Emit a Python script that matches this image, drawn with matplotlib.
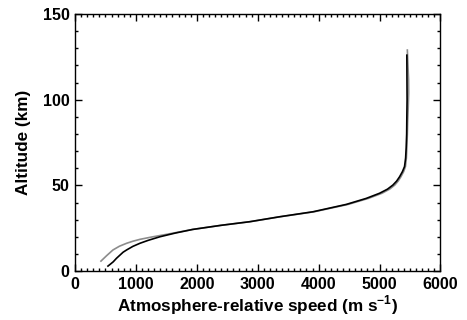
import matplotlib
matplotlib.use('Agg')
import matplotlib.pyplot as plt
from matplotlib.ticker import MultipleLocator

# speed (m/s) vs altitude (km)
black_speed = [541, 580, 628, 680, 738, 790, 847, 950, 1066, 1200, 1393, 1650, 1934, 2400, 2869,
               3361, 3907, 4454, 4781, 5000, 5130, 5219, 5280, 5328, 5375, 5410, 5428, 5437, 5445,
               5448, 5452, 5450, 5448]
black_alt = [2.9, 4.0, 5.4, 7.4, 9.3, 11.0, 12.3, 14.4, 16.2, 17.9, 20.0, 22.2, 24.3, 26.7, 28.8,
             31.7, 34.6, 38.9, 42.4, 45.4, 47.8, 50.2, 52.5, 55.0, 58.0, 61.0, 66.0, 72.0, 80.0,
             90.0, 100.0, 112.0, 126.0]

gray_speed = [426, 520, 623, 730, 847, 950, 1066, 1250, 1500, 1934, 2400, 2875, 3371, 3927, 4484,
              4816, 5040, 5165, 5250, 5305, 5350, 5395, 5425, 5440, 5448, 5456, 5462, 5470, 5478,
              5476, 5466, 5456]
gray_alt = [5.8, 9.0, 12.3, 14.5, 16.2, 17.4, 18.5, 19.8, 21.4, 24.3, 26.7, 28.8, 31.7, 34.6, 38.9,
            42.4, 45.4, 47.8, 50.2, 52.5, 55.0, 58.0, 61.0, 66.0, 72.0, 80.0, 88.0, 95.0, 104.0,
            112.0, 120.0, 129.0]

plt.rcParams['font.family'] = ['Liberation Sans', 'DejaVu Sans']
plt.rcParams['font.weight'] = 'bold'
plt.rcParams['mathtext.fontset'] = 'custom'
plt.rcParams['mathtext.rm'] = 'Liberation Sans:bold'
plt.rcParams['mathtext.bf'] = 'Liberation Sans:bold'

fig = plt.figure(figsize=(4.67, 3.2), dpi=100)
ax = fig.add_axes([0.1606, 0.153, 0.7826, 0.803])

ax.plot(gray_speed, gray_alt, color='#8c8c8c', lw=1.2)
ax.plot(black_speed, black_alt, color='black', lw=1.2)

ax.set_xlim(0, 6000)
ax.set_ylim(0, 150)
ax.xaxis.set_major_locator(MultipleLocator(1000))
ax.xaxis.set_minor_locator(MultipleLocator(100))
ax.yaxis.set_major_locator(MultipleLocator(50))
ax.yaxis.set_minor_locator(MultipleLocator(10))
ax.tick_params(which='both', direction='in', top=True, right=True, width=1, labelsize=11.5)
ax.tick_params(which='major', length=5, pad=4)
ax.tick_params(which='minor', length=2.5)
for s in ax.spines.values():
    s.set_linewidth(1)

ax.set_xlabel(r'Atmosphere-relative speed (m s$^{-1}$)', fontsize=12.3, fontweight='bold', labelpad=1)
ax.set_ylabel('Altitude (km)', fontsize=12.3, fontweight='bold', labelpad=8)

fig.savefig('out.png', dpi=100)
